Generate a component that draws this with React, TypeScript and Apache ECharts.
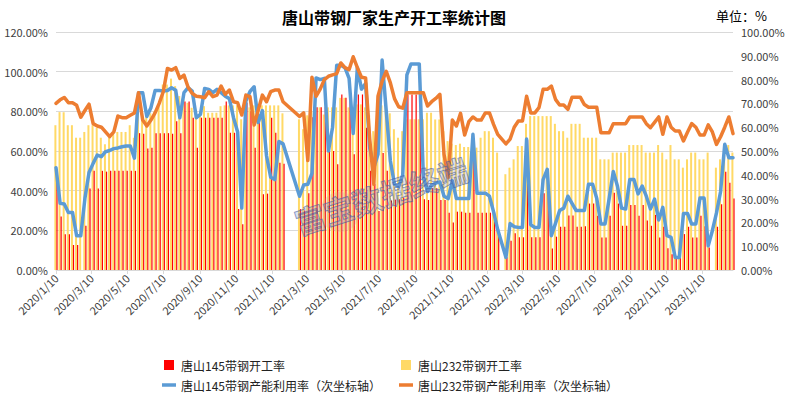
import React, { useEffect, useRef } from "react";
import * as echarts from "echarts";

// ---------------- data (weekly, starting 2020/1/10) ----------------
const START_YEAR = 2020;
const START_MONTH = 0; // January
const START_DAY = 10;

const TICK_LABELS = [
  "2020/1/10", "2020/3/10", "2020/5/10", "2020/7/10", "2020/9/10", "2020/11/10",
  "2021/1/10", "2021/3/10", "2021/5/10", "2021/7/10", "2021/9/10", "2021/11/10",
  "2022/1/10", "2022/3/10", "2022/5/10", "2022/7/10", "2022/9/10", "2022/11/10",
  "2023/1/10",
];

// 唐山145带钢开工率 (left axis, %)
const RED_145_RATE: (number | null)[] = [
  50, 27, 18, 18, 12.6, 12.6, null, 22.3, 41.1, 50,
  41.1, 50, 49.6, 50, 50, 50, 50, 50, 50, 50,
  69, 68.7, 61.3, 61.7, 69, 69, 69, 69, 68.7, 75,
  69, 85, 85, 76.8, 61.7, 76.8, 76.8, 76.8, 76.8, 76.8,
  76.8, 85, 69.2, 69.2, 30.7, 23.1, 84.3, 80, 61.7, 75.9,
  38.2, 38.5, 76.8, 69.2, 54.1, 53.6, null, null, null, 30.7,
  30, 38.7, 77, 82, 82, 82, 62, 60, 53.3, 88.5,
  86.8, 88, 58.3, 88.5, 88.5, 71.7, 50, 43.2, 29.8, 59,
  50, 35, 35.5, 35.7, 36.5, 88.5, 88.5, 88.5, 88.5, 35.7,
  35.3, 41.2, 41.2, 35.3, 35.3, 28.9, 24, 29.4, 29.4, 28.9,
  28.9, 58.8, 28.9, 28.9, 28.9, 28.9, 29, 17.3, null, 6.4,
  14.7, 18.5, 16.5, 16.5, 65.5, 16.5, 16.5, 16.5, 38.7, 49.6,
  10.9, 16.8, 21.8, 21.8, 27.5, 27.5, 21.8, 21.8, 22, 33.5,
  33.5, 27.3, 16.4, 16.4, 27.3, 39, 33.5, 22.3, 22.3, 32.8,
  32.8, 27.3, 32.8, 25, 22.3, 27.8, 16.4, 21.8, 11, 8,
  6.4, 6.4, 18.1, 21.8, 16.4, 16.4, 27.3, 22, 11.4, null,
  21.8, 33.2, 49.6, 44, 36,
];

// 唐山232带钢开工率 (left axis, %)
const YELLOW_232_RATE: (number | null)[] = [
  73, 79.6, 79.6, 73, 73, 66.7, 66.7, 69.6, 73, 73,
  71.7, 66.7, 63.4, 66.7, 69.6, 69.6, 69.6, 69.6, 73, 66.7,
  80, 77, 77, 79, 80, 82.6, 93.5, 93.5, 96.5, 92.7,
  87.7, 86, 84.3, 81.8, 77.6, 79.3, 82.6, 79.3, 79.3, 79.3,
  82.6, 83, 83, 83, 83, 76, 83, 82, 83, 83,
  83, 83, 83, 83, 83, 79, null, null, null, 76,
  71, 78, 80, 82, 82, 78.4, 82, 82, 82, 86.8,
  86.8, 82, 82, 83.5, 83.5, 82, 78, 70, 75, 83,
  83, 79, 71, 66.7, 70, 76, 76, 76, 76, 76,
  79.3, 79.3, 75.9, 75.9, 70, 65, 63.7, 63, 63.7, 62,
  62, 62, 61.7, 66.7, 70, 70, 66.7, 59.2, null, 48.3,
  51.6, 55.8, 62.5, 62.5, 73.7, 77.6, 77.6, 77.6, 77.6, 77.6,
  77.6, 73.7, 70, 70, 66.7, 73.7, 73.7, 73.7, 66.7, 66.7,
  66.7, 66.7, 55.8, 55.8, 55.8, 59.2, 59.2, 59.2, 59.2, 63,
  63, 63, 63, 59.2, 59.2, 59.2, 63, 59.2, 55.8, 63,
  55.8, 55.8, 51.6, 55.8, 59.2, 59.2, 55.8, 55.8, 59.2, null,
  51.6, 55.8, 60, 63, 59.2,
];

// 唐山145带钢产能利用率 (right axis, %)
const BLUE_145_UTIL: (number | null)[] = [
  43, 28, 27.7, 24.2, 24.2, 14.4, 14.4, 30, 41, 44.8,
  48.3, 47.6, 49.7, 50.2, 51, 51.3, 51.8, 52.1, 52.1, 47,
  74.5, 74.5, 64.5, 68.2, 75.4, 75.4, 75.2, 75.4, 76.6, 75.5,
  64, 74.5, 76.6, 75.2, 64, 65.4, 76.3, 75.9, 74.5, 75.9,
  74.5, 73, 72, 64, 58, 26, 71, 75, 77, 62,
  67, 48, 39, 38, 54, 53, null, null, null, 31,
  35.7, 36, 40.6, 80.7, 80, 80.5, 50, 60, 86, 86,
  85, 80.5, 57.4, 85, 76, 78.4, 51.4, 43, 48.6, 88.2,
  66.8, 45.8, 36, 35, 40, 82, 86.6, 86.6, 86.6, 39,
  33, 35.7, 36.5, 37, 31, 30, 37.5, 30, 30, 30,
  30, 57, 32.3, 32.3, 32.3, 31, 24.4, 17, null, 5.3,
  19.5, 18.2, 17.9, 17.9, 55, 19, 17.9, 17.9, 38, 42.3,
  14.4, 19.6, 25, 26, 31, 28, 25, 25, 25, 36,
  36, 30, 19.3, 19.3, 30, 41.4, 35.3, 26, 25.6, 38,
  38, 32, 35.3, 31, 25.6, 29.8, 21, 26.3, 14.4, 13.7,
  5.3, 5.3, 23.7, 23.7, 19.3, 19.3, 30.2, 30.2, 10.2, 16.5,
  24, 33, 52.8, 47.2, 47.2,
];

// 唐山232带钢产能利用率 (right axis, %)
const ORANGE_232_UTIL: (number | null)[] = [
  70, 71.5, 72.5, 70.3, 70.3, 69.2, 64.2, 67, 69.7, 61.5,
  60.5, 60, 58, 56, 58, 64.7, 64, 64, 65, 66,
  74.5, 63, 60.5, 63, 66, 70, 75, 84.7, 84, 85,
  80.5, 81.9, 76.8, 74.2, 73, 72.8, 72.4, 74.9, 72.8, 73.5,
  77.3, 73.8, 75.6, 70.7, 70.3, 65.1, 73.5, 72.8, 60.9, 67.2,
  73.5, 70.7, 74.9, 75.6, 75.6, 70.7, null, null, null, 64.5,
  66, 46, 81, 73, 76, 80, 81.4, 82, 82.5, 87,
  85, 84.2, 89.6, 85, 81, 80.7, 55, 36, 73, 79.3,
  83.5, 78.6, 72, 68.6, 68, 74.5, 74.5, 74.5, 74.5, 74.5,
  68.9, 70.7, 72.1, 73.8, 48.6, 38.8, 63, 60.5, 65.8, 56.7,
  62.3, 64.3, 63, 63, 66, 66, 61.2, 57, null, 53,
  55, 60, 62.6, 62.6, 73, 66, 66, 68.2, 75.9, 75.9,
  77.3, 71.7, 69.3, 69.3, 67.5, 72.6, 72.6, 72.6, 69.5, 68.4,
  68.4, 68.4, 57.7, 57.7, 57.7, 61.5, 61.5, 61.5, 61.5, 64.3,
  64.3, 64.3, 64.3, 61.5, 59.8, 62, 64.3, 57, 64.3, 60,
  58.4, 58.4, 54.2, 58, 61.5, 60, 56.7, 56.7, 61, 58,
  52.8, 56, 60, 64.3, 57.3,
];

const NAME_RED = "唐山145带钢开工率";
const NAME_YELLOW = "唐山232带钢开工率";
const NAME_BLUE = "唐山145带钢产能利用率（次坐标轴）";
const NAME_ORANGE = "唐山232带钢产能利用率（次坐标轴）";

// ---------------- helpers ----------------
const DAY_MS = 86400000;
const T0 = new Date(START_YEAR, START_MONTH, START_DAY).getTime();
// x position = days since the first week
const DAYS = RED_145_RATE.map((_, i) =>
  Math.round((new Date(START_YEAR, START_MONTH, START_DAY + 7 * i).getTime() - T0) / DAY_MS)
);
const TICK_DAYS = TICK_LABELS.map((s) => {
  const [y, m, d] = s.split("/").map(Number);
  return Math.round((new Date(y, m - 1, d).getTime() - T0) / DAY_MS);
});
const LABEL_BY_DAY: Record<number, string> = {};
TICK_DAYS.forEach((d, i) => (LABEL_BY_DAY[d] = TICK_LABELS[i]));

const pair = (arr: (number | null)[]) => arr.map((v, i) => [DAYS[i], v]);

const FONT = '"Noto Sans CJK SC", "Noto Sans", sans-serif';
const pct = (v: number) => v.toFixed(2) + "%";
const SQUARE = "path://M0 0H10V10H0Z";
const LINE_ICON = "path://M0 0H16V4H0Z";

export default function App() {
  const ref = useRef<HTMLDivElement>(null);

  useEffect(() => {
    if (!ref.current) return;
    const chart = echarts.init(ref.current, undefined, { renderer: "svg" });

    const legendText = { fontSize: 12, lineHeight: 14, color: "#222", fontFamily: FONT };
    const legendBase = {
      orient: "vertical",
      top: 353,
      height: 40,
      itemWidth: 14,
      itemHeight: 10,
      itemGap: 6,
      textStyle: legendText,
    };

    chart.setOption({
      animation: false,
      backgroundColor: "#ffffff",
      textStyle: { fontFamily: FONT },
      title: {
        text: "唐山带钢厂家生产开工率统计图",
        left: 277,
        top: 4,
        textStyle: { fontSize: 16, fontWeight: "bold", color: "#000", fontFamily: FONT },
      },
      graphic: [
        {
          type: "text",
          left: 716,
          top: 9,
          style: { text: "单位：%", fontSize: 13, fill: "#000", fontFamily: FONT },
        },
        {
          type: "circle",
          shape: { cx: 340, cy: 212, r: 20 },
          style: { fill: "rgba(200,150,140,0.22)" },
          z: 50,
          silent: true,
        },
        {
          type: "text",
          x: 381,
          y: 195,
          rotation: (18 * Math.PI) / 180,
          z: 60,
          silent: true,
          style: {
            text: "富宝数据终端",
            fontSize: 30,
            fontWeight: "bold",
            fontFamily: FONT,
            fill: "rgba(120,140,200,0.25)",
            stroke: "rgba(60,85,160,0.6)",
            lineWidth: 1,
            align: "center",
            verticalAlign: "middle",
          },
        },
      ],
      legend: [
        {
          ...legendBase,
          left: 157,
          data: [
            { name: NAME_RED, icon: SQUARE },
            { name: NAME_BLUE, icon: LINE_ICON },
          ],
        },
        {
          ...legendBase,
          left: 394,
          data: [
            { name: NAME_YELLOW, icon: SQUARE },
            { name: NAME_ORANGE, icon: LINE_ICON },
          ],
        },
      ],
      grid: { left: 56, right: 55, top: 32, bottom: 123 },
      xAxis: {
        type: "value",
        min: DAYS[0],
        max: DAYS[DAYS.length - 1],
        axisLine: { show: true, lineStyle: { color: "#D9D9D9", width: 1 } },
        axisTick: {
          show: true,
          customValues: TICK_DAYS,
          length: 4,
          lineStyle: { color: "#D9D9D9" },
        },
        axisLabel: {
          customValues: TICK_DAYS,
          rotate: 45,
          margin: 6,
          fontSize: 11,
          color: "#404040",
          fontFamily: FONT,
          formatter: (val: number) => LABEL_BY_DAY[Math.round(val)] ?? "",
        },
        splitLine: { show: false },
      },
      yAxis: [
        {
          type: "value",
          min: 0,
          max: 120,
          interval: 20,
          axisLine: { show: false },
          axisTick: { show: false },
          axisLabel: { formatter: pct, fontSize: 11, color: "#404040", margin: 8, fontFamily: FONT },
          splitLine: { show: true, lineStyle: { color: "#D9D9D9", width: 1 } },
        },
        {
          type: "value",
          min: 0,
          max: 100,
          interval: 10,
          axisLine: { show: false },
          axisTick: { show: false },
          axisLabel: { formatter: pct, fontSize: 11, color: "#404040", margin: 8, fontFamily: FONT },
          splitLine: { show: false },
        },
      ],
      series: [
        {
          name: NAME_YELLOW,
          type: "bar",
          yAxisIndex: 0,
          barWidth: 2,
          barGap: "0%",
          itemStyle: { color: "#FFD966" },
          data: pair(YELLOW_232_RATE),
        },
        {
          name: NAME_RED,
          type: "bar",
          yAxisIndex: 0,
          barWidth: 1.2,
          barGap: "0%",
          itemStyle: { color: "#FF0000" },
          data: pair(RED_145_RATE),
        },
        {
          name: NAME_BLUE,
          type: "line",
          yAxisIndex: 1,
          showSymbol: false,
          symbol: "none",
          connectNulls: true,
          lineStyle: { color: "#5B9BD5", width: 3.5, join: "round", cap: "round" },
          itemStyle: { color: "#5B9BD5" },
          data: pair(BLUE_145_UTIL),
        },
        {
          name: NAME_ORANGE,
          type: "line",
          yAxisIndex: 1,
          showSymbol: false,
          symbol: "none",
          connectNulls: true,
          lineStyle: { color: "#ED7D31", width: 3.5, join: "round", cap: "round" },
          itemStyle: { color: "#ED7D31" },
          data: pair(ORANGE_232_UTIL),
        },
      ],
    });

    return () => chart.dispose();
  }, []);

  return (
    <div
      ref={ref}
      style={{ position: "fixed", left: 0, top: 0, width: 788, height: 393, background: "#fff" }}
    />
  );
}
